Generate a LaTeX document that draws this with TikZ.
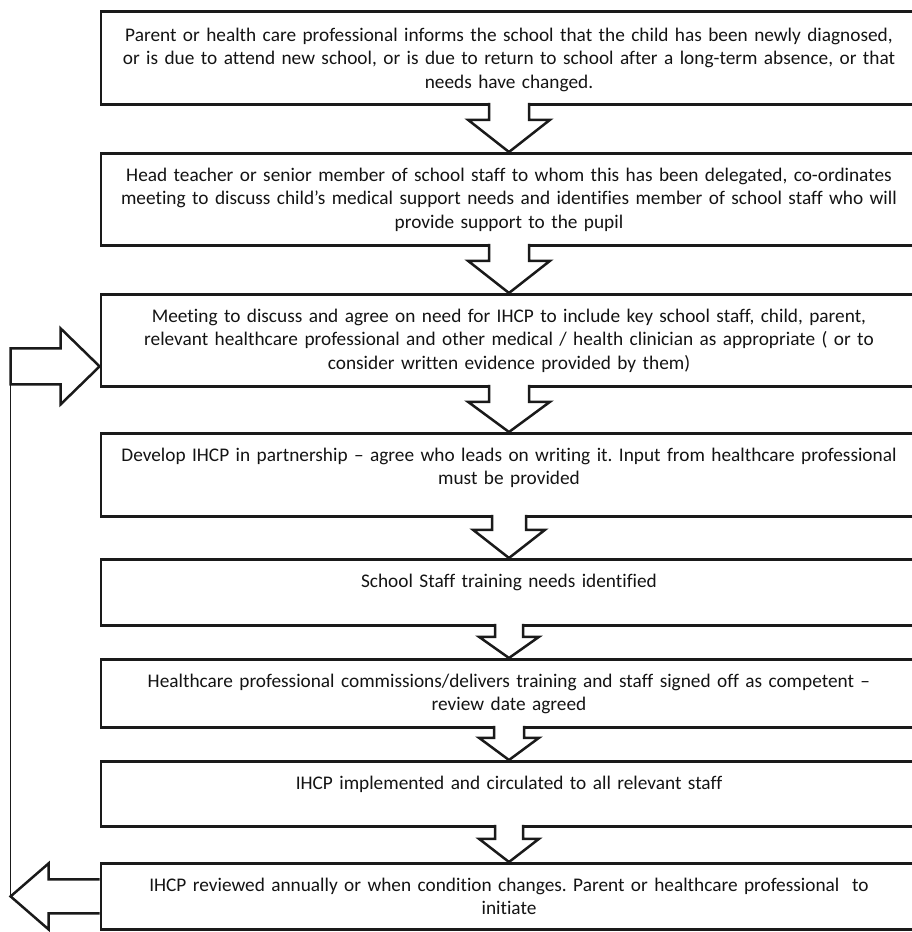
\documentclass[tikz,border=0pt]{standalone}
\usepackage{fontspec}
\setmainfont{Carlito}[Ligatures=NoCommon]
\usetikzlibrary{calc}
\definecolor{inkline}{HTML}{1A1A1A}
\definecolor{inktext}{HTML}{141414}
\frenchspacing
\tikzset{
  stagebox/.style={draw=inkline, line width=2.8pt, fill=white, anchor=north,
    text width=810pt, align=center, inner xsep=3pt, inner ysep=0pt,
    text height=28pt, font=\fontsize{19.3}{23.5}\selectfont, text=inktext},
  blockarr/.style={draw=inkline, fill=white, line width=2.5pt, line join=miter},
  loopline/.style={draw=inkline, line width=1.5pt}
}

\begin{document}
\begin{tikzpicture}[x=1pt, y=-1pt]
    \useasboundingbox (0,0) rectangle (912,932);
    \clip (0,0) rectangle (912,932);
    \node[stagebox, text height=30pt, text depth=63pt] (inform) at (509,10) {Parent or health care professional informs the school that the child has been newly diagnosed,\\ or is due to attend new school, or is due to return to school after a long-term absence, or that\\ needs have changed.};
    \node[stagebox, text depth=64pt] (coord) at (509,152) {Head teacher or senior member of school staff to whom this has been delegated, co-ordinates\\ meeting to discuss child’s medical support needs and identifies member of school staff who will\\ provide support to the pupil};
    \node[stagebox, text depth=64pt] (agree) at (509,293) {Meeting to discuss and agree on need for IHCP to include key school staff, child, parent,\\ relevant healthcare professional and other medical / health clinician as appropriate ( or to\\ consider written evidence provided by them)};
    \node[stagebox, text depth=55pt] (develop) at (509,432) {Develop IHCP in partnership – agree who leads on writing it. Input from healthcare professional\\ must be provided};
    \node[stagebox, text depth=38pt] (needs) at (509,558) {School Staff training needs identified};
    \node[stagebox, text depth=40pt] (training) at (509,658) {Healthcare professional commissions/delivers training and staff signed off as competent –\\ review date agreed};
    \node[stagebox, text depth=37pt] (implement) at (509,760) {IHCP implemented and circulated to all relevant staff};
    \node[stagebox, text depth=38pt] (review) at (509,862) {IHCP reviewed annually or when condition changes. Parent or healthcare professional\ \ to\\ initiate};
    \foreach \a/\b/\sw/\hw/\sl in {inform/coord/20/41/14, coord/agree/20/41/14, agree/develop/20/41/14,
        develop/needs/17/36/12, needs/training/14/30/10, training/implement/15/30/9, implement/review/14/30/11}
      \draw[blockarr] ($(\a.south)+(-\sw,-3)$) -- ++(0,\sl+3) -- ++(\sw-\hw,0) -- (\b.north)
        -- ($(\a.south)+(\hw,\sl)$) -- ++(\sw-\hw,0) -- ++(0,-\sl-3);
    \coordinate (loopin) at ($(agree.west)+(0,26)$);
    \draw[blockarr] (loopin) -- ++(-39,-38) -- ++(0,20) -- ++(-50,0) -- ++(0,36) coordinate (loopup)
      -- ++(50,0) -- ++(0,20) -- cycle;
    \draw[blockarr] ($(review.west)+(0,-17)$) -- ++(-51,0) -- ++(0,-16) -- ++(-38,33) coordinate (loopdown)
      -- ++(38,33) -- ++(0,-16) -- ++(51,0);
    \draw[loopline] (loopdown) -- (loopup);
  \end{tikzpicture}
\end{document}
